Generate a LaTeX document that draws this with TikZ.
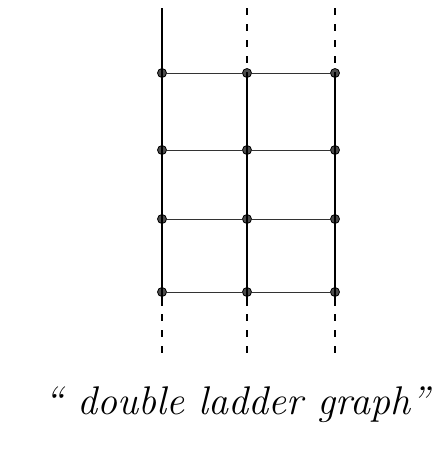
\documentclass[tikz,border=0pt]{standalone}
\usetikzlibrary{positioning}

\begin{document}
\begin{tikzpicture}[
            x=1pt, y=-1pt,
            vertex/.style={circle, fill=black!70, draw=black, line width=0.8pt, inner sep=0pt, minimum size=9pt},
            rail/.style={line width=1.4pt},
            rung/.style={line width=1pt, black!80},
            tail/.style={line width=1.2pt, dash pattern=on 7pt off 9pt}
        ]
            \useasboundingbox (0,0) rectangle (446,461);
            % vertices of the three rails
            \foreach \c/\x in {1/162, 2/247, 3/335} {
                \foreach \r/\y in {1/73, 2/150, 3/219, 4/292} {
                    \node[vertex] (v-\c-\r) at (\x,\y) {};
                }
                \coordinate (t-\c) at (\x,8);
                \coordinate (b-\c) at (\x,358);
                \coordinate (s-\c) at (\x,306);
            }
            % rails
            \foreach \c in {1,2,3} {
                \draw[rail] (v-\c-1.center) -- (v-\c-4.center) -- (s-\c);
                \draw[tail] (s-\c) ++(0,8) -- (b-\c);
            }
            \draw[rail] (t-1) -- (v-1-1.center);
            \draw[tail] (t-2) -- (v-2-1.center);
            \draw[tail] (t-3) -- (v-3-1.center);
            % rungs
            \foreach \r in {1,2,3,4} {
                \draw[rung] (v-1-\r) -- (v-2-\r);
                \draw[rung] (v-2-\r) -- (v-3-\r);
            }
            \node[font=\fontsize{40}{46}\selectfont\itshape] (caption) at (237,405) {`` double ladder graph''};
        \end{tikzpicture}
\end{document}
